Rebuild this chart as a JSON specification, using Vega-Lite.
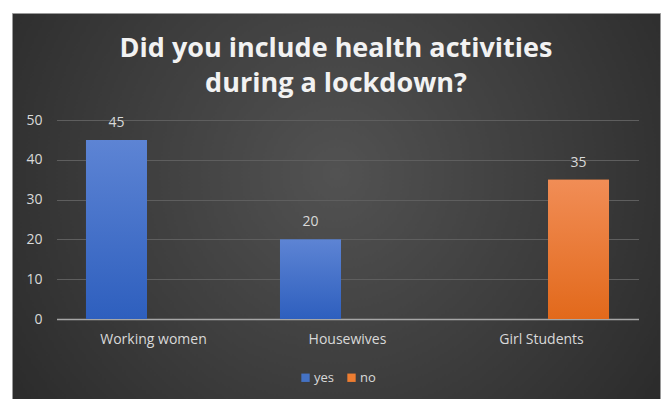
{
  "$schema": "https://vega.github.io/schema/vega-lite/v6.json",
  "autosize": {"type": "none"},
  "width": 648,
  "height": 386,
  "padding": {"left": 12, "top": 13, "right": 3, "bottom": 0},
  "background": "#ffffff",
  "view": {
    "stroke": "#9a9a9a",
    "strokeWidth": 1,
    "fill": {
      "gradient": "radial",
      "x1": 0.5, "y1": 0.45, "r1": 0,
      "x2": 0.5, "y2": 0.45, "r2": 0.75,
      "stops": [
        {"offset": 0, "color": "#525252"},
        {"offset": 1, "color": "#222222"}
      ]
    }
  },
  "title": {
    "text": ["Did you include health activities", "during a lockdown?"],
    "font": "Open Sans",
    "fontSize": 27,
    "fontWeight": "bold",
    "color": "#f2f2f2",
    "lineHeight": 35,
    "anchor": "middle",
    "offset": -85
  },
  "data": {
    "values": [
      {"group": "Working women", "answer": "yes", "count": 45},
      {"group": "Housewives", "answer": "yes", "count": 20},
      {"group": "Girl Students", "answer": "no", "count": 35}
    ]
  },
  "encoding": {
    "x": {
      "field": "group",
      "type": "nominal",
      "sort": ["Working women", "Housewives", "Girl Students"],
      "scale": {"range": [44.5, 626.5], "paddingInner": 0.304, "paddingOuter": 0.152},
      "axis": {
        "title": null,
        "orient": "bottom",
        "offset": -80,
        "labelAngle": 0,
        "ticks": false,
        "domainColor": "#a6a6a6",
        "domainWidth": 1.5,
        "labelColor": "#d9d9d9",
        "labelFont": "Open Sans",
        "labelFontSize": 14,
        "labelPadding": 13
      }
    },
    "xOffset": {
      "field": "answer",
      "type": "nominal",
      "scale": {"domain": ["yes", "no"], "paddingInner": 0.176, "paddingOuter": 0}
    },
    "y": {
      "field": "count",
      "type": "quantitative",
      "scale": {"domain": [0, 50], "range": [306, 107], "nice": false},
      "axis": {
        "title": null,
        "offset": -30,
        "values": [0, 10, 20, 30, 40, 50],
        "domain": false,
        "ticks": false,
        "grid": true,
        "gridColor": "#5e5e5e",
        "gridWidth": 1,
        "labelColor": "#d9d9d9",
        "labelFont": "Open Sans",
        "labelFontSize": 14,
        "labelPadding": 0
      }
    }
  },
  "layer": [
    {
      "mark": {"type": "bar", "stroke": null},
      "encoding": {
        "color": {
          "field": "answer",
          "type": "nominal",
          "scale": {"domain": ["yes", "no"], "range": ["#4472c4", "#ed7d31"]},
          "legend": {
            "title": null,
            "orient": "none",
            "direction": "horizontal",
            "legendX": 287,
            "legendY": 358,
            "symbolType": "square",
            "symbolSize": 70,
            "symbolStrokeWidth": 0,
            "labelOffset": 2,
            "labelColor": "#d9d9d9",
            "labelFont": "Open Sans",
            "labelFontSize": 13,
            "columnPadding": 10
          }
        }
      }
    },
    {
      "mark": {
        "type": "bar",
        "color": {
          "gradient": "linear", "x1": 0, "y1": 0, "x2": 0, "y2": 1,
          "stops": [{"offset": 0, "color": "#5d84d4"}, {"offset": 1, "color": "#2e5fbe"}]
        }
      },
      "transform": [{"filter": "datum.answer == 'yes'"}]
    },
    {
      "mark": {
        "type": "bar",
        "color": {
          "gradient": "linear", "x1": 0, "y1": 0, "x2": 0, "y2": 1,
          "stops": [{"offset": 0, "color": "#f18d56"}, {"offset": 1, "color": "#e2691b"}]
        }
      },
      "transform": [{"filter": "datum.answer == 'no'"}]
    },
    {
      "mark": {"type": "text", "dy": -17, "color": "#d9d9d9", "font": "Open Sans", "fontSize": 14},
      "encoding": {"text": {"field": "count", "type": "quantitative"}}
    }
  ]
}
